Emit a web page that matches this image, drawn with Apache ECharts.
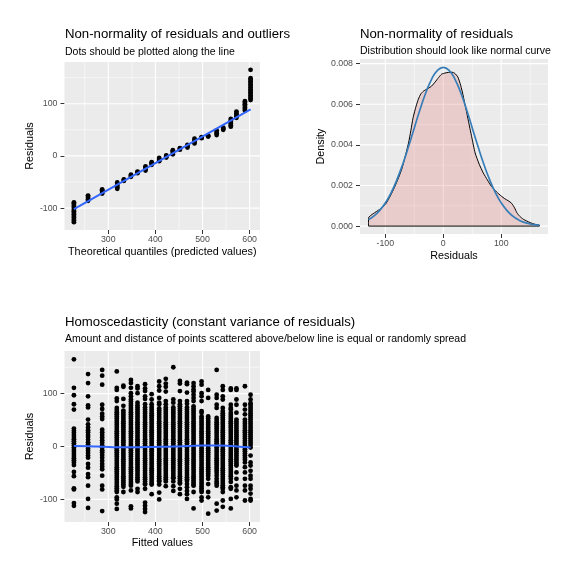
<!DOCTYPE html>
<html><head><meta charset="utf-8">
<script src="https://cdn.jsdelivr.net/npm/echarts@6/dist/echarts.min.js"></script>
<style>html,body{margin:0;padding:0;background:#fff}#c{width:576px;height:576px}</style>
</head><body><div id="c"></div>
<script>
const FONT = 'Liberation Sans, Arial, Helvetica, sans-serif';

// ---------- tick values ----------
const fitTicks = [300, 400, 500, 600];
const fitMinor = [250, 350, 450, 550];
const resTicks = [-100, 0, 100];
const resMinor = [-50, 50, 150];
const densXTicks = [-100, 0, 100];
const densXMinor = [-50, 50, 150];
const densYTicks = [0, 0.002, 0.004, 0.006, 0.008];
const densYMinor = [0.001, 0.003, 0.005, 0.007];

// ---------- panel 1: QQ plot (theoretical quantile clusters, sorted residuals) ----------
const qqX = [227, 257, 287, 319, 333, 348, 362, 379, 392, 408, 423, 437, 452, 468, 483, 498, 512, 530, 544, 560, 572, 590, 602];
const qqY = [
  [-127,-124,-121,-118,-115,-112,-109,-106,-103,-100,-97,-94,-91,-89],
  [-86,-83,-80,-77,-76],
  [-72,-69,-66,-64],
  [-63,-60,-57,-54,-51],
  [-48,-46,-45],
  [-40,-38,-36],
  [-33,-31,-30],
  [-28,-25,-22,-20],
  [-17,-14,-12],
  [-10,-8,-6,-4],
  [-3,-1,1],
  [3,6,9,11],
  [12,14,15],
  [16,19,21],
  [24,27,30,33],
  [34,35,36],
  [37,38,39],
  [40,43,46,49],
  [50,52,54],
  [56,59,62,65,68,71],
  [73,76,79,82,85],
  [87,90,93,96,99,102,105],
  [107,110,113,116,119,122,125,128,131,134,137,140,143,146,149,165]
];
const qqLineX = [227, 602];
const qqLineY = [-102, 89];

// ---------- panel 2: density of residuals + normal curve ----------
const densX = [-129,-129,-121,-110,-100,-93,-86,-79,-72,-66,-60,-56,-52,-47,-43,-39,-34,-30,-26,-20,-14,-8,-3,3,9,15,20,25,29,33,37,40,43,49,55,62,69,76,83,92,100,106,112,118,123,127,132,138,144,150,158,166,166];
const densY = [0,0.00041,0.00061,0.00082,0.00107,0.00140,0.00180,0.00226,0.00278,0.00340,0.00409,0.00470,0.00535,0.00590,0.00625,0.00650,0.00665,0.00672,0.00678,0.00690,0.00710,0.00732,0.00748,0.00754,0.00757,0.00758,0.00752,0.00735,0.00703,0.00660,0.00605,0.00565,0.00523,0.00440,0.00360,0.00305,0.00262,0.00228,0.00196,0.00168,0.00148,0.00135,0.00125,0.00112,0.00090,0.00066,0.00048,0.00034,0.00025,0.00017,0.00009,0.00004,0];
const normX = [-129,-120,-110,-100,-90,-80,-70,-60,-50,-40,-30,-20,-10,0,10,20,30,40,50,60,70,80,90,100,110,120,130,140,150,160,166];
const normY = [0.000319,0.000491,0.000764,0.001144,0.001649,0.002286,0.003050,0.003915,0.004837,0.005751,0.006579,0.007243,0.007673,0.007822,0.007673,0.007243,0.006579,0.005751,0.004837,0.003915,0.003050,0.002286,0.001649,0.001144,0.000764,0.000491,0.000304,0.000181,0.000103,0.000057,0.000039];

// ---------- panel 3: residuals vs fitted ----------
const fitX = [227, 257, 287, 318, 332, 348, 362, 378, 392, 408, 422, 438, 452, 467, 481, 498, 512, 530, 543, 560, 572, 590, 602];
const fitRes = [
  [165,111,97,80,70,34,30,26,22,18,14,10,6,2,-2,-6,-10,-14,-18,-22,-26,-30,-35,-48,-56,-79,-81,-107,-112],
  [137,120,95,78,74,51,42,36,31,27,22,18,13,8,4,0,-4,-8,-12,-17,-21,-33,-40,-52,-58,-74,-99,-116],
  [145,134,117,79,71,62,57,52,32,27,22,17,12,7,2,-2,-7,-11,-16,-21,-27,-33,-38,-43,-55,-74,-81,-122],
  [142,111,107,91,86,73,69,65,61,57,53,49,45,41,37,33,29,25,21,17,13,9,5,1,-3,-7,-11,-15,-19,-23,-27,-31,-35,-39,-43,-47,-51,-55,-59,-63,-67,-71,-75,-79,-83,-86,-96,-100,-108,-118],
  [115,113,90,77,68,64,60,56,52,48,44,40,36,32,28,24,20,16,12,8,4,0,-4,-8,-12,-16,-20,-24,-28,-32,-36,-40,-44,-48,-52,-56,-60,-64,-68,-72,-76,-86],
  [126,120,111,101,95,89,85,81,77,73,69,65,61,57,53,49,45,41,37,33,29,25,21,17,13,9,5,1,-3,-7,-11,-15,-19,-23,-27,-31,-35,-39,-43,-47,-51,-55,-59,-63,-67,-71,-74,-83,-113,-117],
  [114,110,101,83,78,74,70,66,62,58,54,50,46,42,38,34,30,26,22,18,14,10,6,2,-2,-6,-10,-14,-18,-22,-26,-30,-34,-38,-42,-46,-50,-54,-58,-62,-66,-80,-86],
  [118,110,105,95,90,80,74,70,66,62,58,54,50,46,42,38,34,30,26,22,18,14,10,6,2,-2,-6,-10,-14,-18,-22,-26,-30,-34,-38,-42,-46,-50,-54,-58,-62,-66,-70,-72,-80,-106,-112,-118,-124],
  [99,89,80,75,71,67,63,59,55,51,47,43,39,35,31,27,23,19,15,11,7,3,-1,-5,-9,-13,-17,-21,-25,-29,-33,-37,-41,-45,-49,-53,-57,-61,-65,-69,-72,-90],
  [123,114,106,92,83,80,72,68,64,60,56,52,48,44,40,36,32,28,24,20,16,12,8,4,0,-4,-8,-12,-16,-20,-24,-28,-32,-36,-40,-44,-48,-52,-56,-60,-64,-66,-72,-87,-100],
  [128,119,113,104,86,80,74,70,66,62,58,54,50,46,42,38,34,30,26,22,18,14,10,6,2,-2,-6,-10,-14,-18,-22,-26,-30,-34,-38,-42,-46,-50,-54,-58,-62,-66,-75],
  [150,89,83,74,70,66,62,58,54,50,46,42,38,34,30,26,22,18,14,10,6,2,-2,-6,-10,-14,-18,-22,-26,-30,-34,-38,-42,-46,-50,-54,-58,-60,-66,-75,-84],
  [124,119,105,86,80,76,72,68,64,60,56,52,48,44,40,36,32,28,24,20,16,12,8,4,0,-4,-8,-12,-16,-20,-24,-28,-32,-36,-40,-44,-48,-52,-56,-60,-64,-68,-70,-80,-90],
  [121,118,102,86,81,74,70,66,62,58,54,50,46,42,38,34,30,26,22,18,14,10,6,2,-2,-6,-10,-14,-18,-22,-26,-30,-34,-38,-42,-46,-50,-54,-58,-62,-65,-71,-77,-84,-90,-99],
  [120,114,108,104,98,92,86,76,72,68,64,60,56,52,48,44,40,36,32,28,24,20,16,12,8,4,0,-4,-8,-12,-16,-20,-24,-28,-32,-36,-40,-44,-48,-52,-56,-60,-64,-68,-72,-74,-86,-117],
  [123,117,101,95,86,67,64,57,53,49,45,41,37,33,29,25,21,17,13,9,5,1,-3,-7,-11,-15,-19,-23,-27,-31,-35,-39,-43,-47,-51,-55,-59,-63,-67,-71,-75,-79,-83,-86,-96,-102],
  [107,92,57,53,49,45,41,37,33,29,25,21,17,13,9,5,1,-3,-7,-11,-15,-19,-23,-27,-31,-35,-39,-43,-47,-51,-55,-61,-71,-86,-96,-127],
  [145,98,92,79,73,54,50,46,42,38,34,30,26,22,18,14,10,6,2,-2,-6,-10,-14,-18,-22,-26,-30,-34,-38,-42,-46,-50,-55,-61,-66,-70,-74,-108,-121],
  [114,107,95,89,73,67,63,59,55,51,47,43,39,35,31,27,23,19,15,11,7,3,-1,-5,-9,-13,-17,-21,-25,-29,-33,-37,-41,-45,-49,-53,-57,-61,-65,-69,-73,-77,-80,-86,-102,-114],
  [110,107,79,73,70,64,60,56,52,48,44,40,36,32,28,24,20,16,12,8,4,0,-4,-8,-12,-16,-20,-24,-28,-32,-36,-40,-44,-48,-52,-56,-61,-67,-77,-80,-99,-117],
  [110,107,89,79,64,51,47,43,39,35,31,27,23,19,15,11,7,3,-1,-5,-9,-13,-17,-21,-25,-29,-33,-36,-49,-61,-74,-83,-96],
  [114,79,70,61,51,47,43,39,35,31,27,23,19,15,11,7,3,-1,-5,-9,-13,-17,-21,-25,-30,-39,-49,-61,-74,-83,-102],
  [98,89,82,79,75,71,67,63,59,55,51,47,43,39,35,31,27,23,19,15,11,7,3,-2,-17,-30,-36,-46,-55,-61,-74,-80,-89,-99,-102]
];
const smoothX = [227, 260, 290, 320, 350, 380, 410, 440, 470, 500, 530, 560, 590, 602];
const smoothY = [1, 0.5, -0.5, -1.5, -1.5, -1, -0.5, 0, 1, 2, 2, 1, -1, -2];

// ---------- axis ranges ----------
const fitRange = [207, 622];
const res1Range = [-142, 180];
const res3Range = [-142.7, 180.7];
const densXRange = [-143.75, 180.75];
const densYRange = [-0.00039, 0.00823];

// ---------- build ----------
const qqPts = [];
qqX.forEach((x, i) => qqY[i].forEach(y => qqPts.push([x, y])));
const fitPts = [];
fitX.forEach((x, i) => fitRes[i].forEach(y => fitPts.push([x, y])));
const zip = (a, b) => a.map((v, i) => [v, b[i]]);

function gridLineSeries(i, xMaj, xMin, yMaj, yMin, xr, yr) {
  const out = [];
  const mk = (data, w) => ({ type: 'line', xAxisIndex: i, yAxisIndex: i, data: data, symbol: 'none',
    showSymbol: false, silent: true, z: 1, clip: true, lineStyle: { color: '#ffffff', width: w } });
  xMaj.forEach(v => out.push(mk([[v, yr[0]], [v, yr[1]]], 1.1)));
  xMin.forEach(v => out.push(mk([[v, yr[0]], [v, yr[1]]], 0.55)));
  yMaj.forEach(v => out.push(mk([[xr[0], v], [xr[1], v]], 1.1)));
  yMin.forEach(v => out.push(mk([[xr[0], v], [xr[1], v]], 0.55)));
  return out;
}
const tickCol = '#333333';
function xAxisCfg(i, r, ticks, name, gap, fmt) {
  return {
    gridIndex: i, type: 'value', min: r[0], max: r[1],
    name: name, nameLocation: 'middle', nameGap: gap,
    nameTextStyle: { fontFamily: FONT, fontSize: 10.8, color: '#000' },
    axisLine: { show: false, onZero: false },
    axisTick: { show: true, inside: false, length: 4, customValues: ticks, lineStyle: { color: tickCol, width: 1 } },
    axisLabel: { customValues: ticks, margin: 5, color: '#4D4D4D', fontFamily: FONT, fontSize: 8.8, formatter: fmt || (v => String(v)) },
    splitLine: { show: false }, minorSplitLine: { show: false }
  };
}
function yAxisCfg(i, r, ticks, name, gap, fmt) {
  return {
    gridIndex: i, type: 'value', min: r[0], max: r[1],
    name: name, nameLocation: 'middle', nameGap: gap,
    nameTextStyle: { fontFamily: FONT, fontSize: 10.8, color: '#000' },
    axisLine: { show: false, onZero: false },
    axisTick: { show: true, inside: false, length: 4, customValues: ticks, lineStyle: { color: tickCol, width: 1 } },
    axisLabel: { customValues: ticks, margin: 7, color: '#4D4D4D', fontFamily: FONT, fontSize: 8.8, formatter: fmt || (v => String(v)) },
    splitLine: { show: false }, minorSplitLine: { show: false }
  };
}
function titleCfg(text, left, top, size) {
  return { text: text, left: left, top: top, padding: 0, itemGap: 0,
    textStyle: { fontFamily: FONT, fontSize: size, fontWeight: 'normal', color: '#000' } };
}

const chart = echarts.init(document.getElementById('c'), null, { renderer: 'canvas' });
chart.setOption({
  animation: false,
  backgroundColor: '#ffffff',
  title: [
    titleCfg('Non-normality of residuals and outliers', 65, 28, 13.2),
    titleCfg('Dots should be plotted along the line', 65, 47, 10.5),
    titleCfg('Non-normality of residuals', 360, 28, 13.2),
    titleCfg('Distribution should look like normal curve', 360, 46, 10.5),
    titleCfg('Homoscedasticity (constant variance of residuals)', 65, 316, 13.2),
    titleCfg('Amount and distance of points scattered above/below line is equal or randomly spread', 65, 334, 10.5)
  ],
  grid: [
    { left: 64.5, top: 62, width: 195.5, height: 168, show: true, backgroundColor: '#EBEBEB', borderWidth: 0 },
    { left: 360, top: 59, width: 188, height: 175, show: true, backgroundColor: '#EBEBEB', borderWidth: 0 },
    { left: 64.5, top: 351, width: 195.5, height: 171, show: true, backgroundColor: '#EBEBEB', borderWidth: 0 }
  ],
  xAxis: [
    xAxisCfg(0, fitRange, fitTicks, 'Theoretical quantiles (predicted values)', 17),
    xAxisCfg(1, densXRange, densXTicks, 'Residuals', 17),
    xAxisCfg(2, fitRange, fitTicks, 'Fitted values', 16)
  ],
  yAxis: [
    yAxisCfg(0, res1Range, resTicks, 'Residuals', 26),
    yAxisCfg(1, densYRange, densYTicks, 'Density', 33, v => v.toFixed(3)),
    yAxisCfg(2, res3Range, resTicks, 'Residuals', 25)
  ],
  series: [
    ...gridLineSeries(0, fitTicks, fitMinor, resTicks, resMinor, fitRange, res1Range),
    ...gridLineSeries(1, densXTicks, densXMinor, densYTicks, densYMinor, densXRange, densYRange),
    ...gridLineSeries(2, fitTicks, fitMinor, resTicks, resMinor, fitRange, res3Range),
    { type: 'scatter', xAxisIndex: 0, yAxisIndex: 0, data: qqPts, symbolSize: 4.8,
      itemStyle: { color: '#000000', opacity: 1 }, z: 3, silent: true },
    { type: 'line', xAxisIndex: 0, yAxisIndex: 0, data: zip(qqLineX, qqLineY), symbol: 'none',
      lineStyle: { color: '#3366FF', width: 2 }, z: 4, silent: true },
    { type: 'line', xAxisIndex: 1, yAxisIndex: 1, data: zip(densX, densY), symbol: 'none', smooth: 0.2,
      lineStyle: { color: '#000000', width: 1 }, areaStyle: { color: 'rgba(220,90,90,0.3)' }, z: 3, silent: true },
    { type: 'line', xAxisIndex: 1, yAxisIndex: 1, data: [[densX[0], 0], [densX[densX.length - 1], 0]], symbol: 'none',
      lineStyle: { color: '#000000', width: 1 }, z: 3, silent: true },
    { type: 'line', xAxisIndex: 1, yAxisIndex: 1, data: zip(normX, normY), symbol: 'none', smooth: true,
      lineStyle: { color: '#377EB8', width: 1.7 }, z: 4, silent: true },
    { type: 'scatter', xAxisIndex: 2, yAxisIndex: 2, data: fitPts, symbolSize: 4.8,
      itemStyle: { color: '#000000', opacity: 1 }, z: 3, silent: true },
    { type: 'line', xAxisIndex: 2, yAxisIndex: 2, data: zip(smoothX, smoothY), symbol: 'none', smooth: true,
      lineStyle: { color: '#3366FF', width: 2 }, z: 4, silent: true }
  ]
});
</script></body></html>
